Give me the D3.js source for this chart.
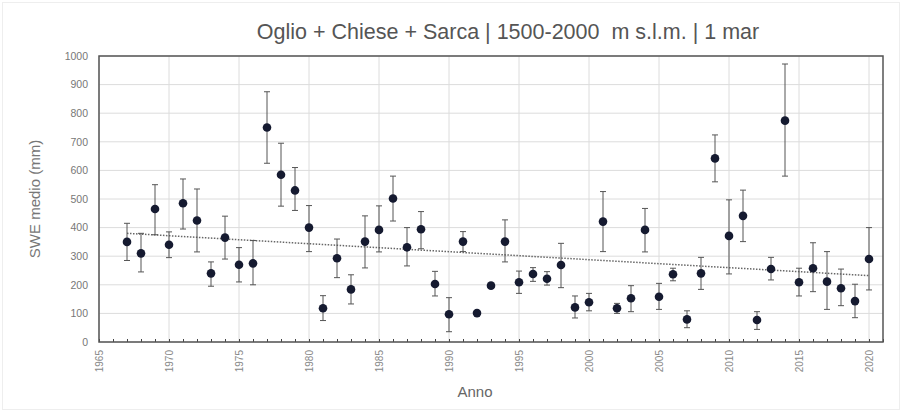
<!DOCTYPE html>
<html><head><meta charset="utf-8">
<script src="https://cdn.jsdelivr.net/npm/d3@7"></script>
<style>body{margin:0;background:#fff;}svg{display:block;font-family:"Liberation Sans",Arial,sans-serif;}</style>
</head><body>
<script>
const years = [1967,1968,1969,1970,1971,1972,1973,1974,1975,1976,1977,1978,1979,1980,1981,1982,1983,1984,1985,1986,1987,1988,1989,1990,1991,1992,1993,1994,1995,1996,1997,1998,1999,2000,2001,2002,2003,2004,2005,2006,2007,2008,2009,2010,2011,2012,2013,2014,2015,2016,2017,2018,2019,2020];
const swe =   [350,310,465,340,485,425,240,365,270,275,750,585,530,400,118,293,184,351,392,502,331,394,203,97,351,101,197,351,209,238,221,269,121,139,421,118,153,392,158,237,79,240,642,371,441,77,255,774,209,258,211,188,143,290];
const errHi = [415,380,550,385,570,535,280,440,330,355,875,695,610,477,162,360,235,441,476,580,400,456,247,155,386,110,205,427,248,260,246,345,161,170,526,135,197,467,205,258,109,296,724,497,531,106,296,972,258,347,316,255,202,400];
const errLo = [285,245,375,295,395,315,195,290,210,200,625,475,460,316,75,225,133,259,315,423,266,326,161,36,316,94,188,280,170,212,199,190,84,109,316,100,106,315,114,214,50,184,560,238,351,44,217,580,161,176,114,127,85,182];
const trendYears = [1967, 2020];
const trendValues = [380, 232];
const yTicks = [0,100,200,300,400,500,600,700,800,900,1000];
const xTicks = [1965,1970,1975,1980,1985,1990,1995,2000,2005,2010,2015,2020];
const title = "Oglio + Chiese + Sarca | 1500-2000\u00A0 m s.l.m. | 1 mar";

const W = 902, H = 412;
const svg = d3.select("body").append("svg").attr("width", W).attr("height", H);
svg.append("rect").attr("x",2.5).attr("y",2.5).attr("width",W-5).attr("height",H-5).attr("fill","none").attr("stroke","#eee");

const x = d3.scaleLinear().domain([1965, 2021]).range([99, 883]);
const y = d3.scaleLinear().domain([0, 1000]).range([342, 56]);

// grid
svg.append("g").selectAll("line").data(yTicks).join("line")
  .attr("x1", 99).attr("x2", 883).attr("y1", d=>y(d)).attr("y2", d=>y(d))
  .attr("stroke", "#dcdcdc").attr("stroke-width", 1);
svg.append("g").selectAll("line").data(xTicks).join("line")
  .attr("x1", d=>x(d)).attr("x2", d=>x(d)).attr("y1", 56).attr("y2", 342)
  .attr("stroke", "#dcdcdc").attr("stroke-width", 1);

// axes
const yAxis = d3.axisLeft(y).tickValues(yTicks).tickSize(0).tickPadding(11).tickFormat(d3.format("d"));
const gy = svg.append("g").attr("transform","translate(99,0)").call(yAxis);
gy.select(".domain").remove();
gy.selectAll("text").attr("fill","#777").style("font-size","10.5px");

const xAxis = d3.axisBottom(x).tickValues(d3.range(1965, 2022)).tickSize(-3).tickFormat(d => xTicks.includes(d) ? d : "");
const gx = svg.append("g").attr("transform","translate(0,342)").call(xAxis);
gx.select(".domain").remove();
gx.selectAll("line").attr("stroke","#444");
gx.selectAll("text").attr("fill","#888").style("font-size","10px")
  .attr("transform","rotate(-90)").attr("text-anchor","end").attr("x",-8).attr("y",0).attr("dy","0.35em");

// frame
svg.append("rect").attr("x",99).attr("y",56).attr("width",784).attr("height",286)
  .attr("fill","none").attr("stroke","#555").attr("stroke-width",1.5);

// trend
svg.append("line").attr("x1", x(trendYears[0])).attr("x2", x(trendYears[1]))
  .attr("y1", y(trendValues[0])).attr("y2", y(trendValues[1]))
  .attr("stroke","#666").attr("stroke-width",1.5).attr("stroke-dasharray","1.5,1.5");

// error bars
const data = years.map((yr,i)=>({yr, v:swe[i], hi:errHi[i], lo:errLo[i]}));
const eb = svg.append("g").attr("stroke","#555").attr("stroke-width",1);
eb.selectAll(".v").data(data).join("line").attr("x1",d=>x(d.yr)).attr("x2",d=>x(d.yr)).attr("y1",d=>y(d.hi)).attr("y2",d=>y(d.lo));
eb.selectAll(".t").data(data).join("line").attr("x1",d=>x(d.yr)-3).attr("x2",d=>x(d.yr)+3).attr("y1",d=>y(d.hi)).attr("y2",d=>y(d.hi));
eb.selectAll(".b").data(data).join("line").attr("x1",d=>x(d.yr)-3).attr("x2",d=>x(d.yr)+3).attr("y1",d=>y(d.lo)).attr("y2",d=>y(d.lo));

svg.append("g").selectAll("circle").data(data).join("circle")
  .attr("cx",d=>x(d.yr)).attr("cy",d=>y(d.v)).attr("r",4.3).attr("fill","#151a30");

// labels
svg.append("text").attr("x",508).attr("y",39).attr("text-anchor","middle").attr("fill","#555").style("font-size","21.5px").text(title);
svg.append("text").attr("x",475).attr("y",397).attr("text-anchor","middle").attr("fill","#666").style("font-size","15px").text("Anno");
svg.append("text").attr("transform","translate(40,199) rotate(-90)").attr("text-anchor","middle").attr("fill","#777").style("font-size","15px").text("SWE medio (mm)");
</script>
</body></html>
